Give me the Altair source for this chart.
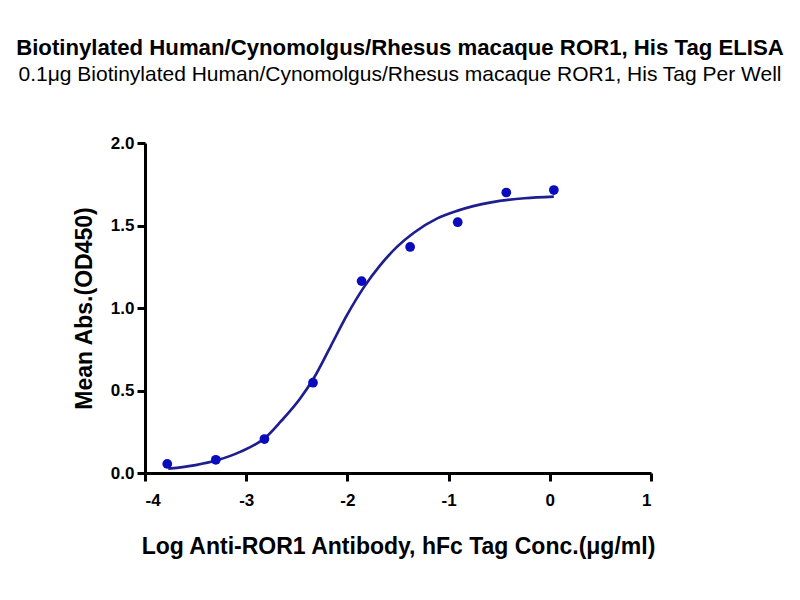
import altair as alt
import pandas as pd

# Measured points (log concentration, mean OD450)
pt_x = [-3.78, -3.30, -2.82, -2.34, -1.86, -1.38, -0.91, -0.43, 0.04]
pt_y = [0.055, 0.080, 0.206, 0.547, 1.163, 1.370, 1.520, 1.700, 1.715]

# Fitted curve
cv_x = [-3.77, -3.50, -3.29, -3.06, -2.81, -2.66, -2.465, -2.333, -2.168, -2.003,
        -1.838, -1.673, -1.508, -1.343, -1.112, -0.91, -0.58, -0.25, 0.04]
cv_y = [0.026, 0.048, 0.077, 0.128, 0.215, 0.311, 0.453, 0.574, 0.765, 0.958,
        1.125, 1.261, 1.372, 1.456, 1.543, 1.590, 1.640, 1.665, 1.675]

x_ticks = [-4, -3, -2, -1, 0, 1]
y_ticks = [0.0, 0.5, 1.0, 1.5, 2.0]

pts = pd.DataFrame({"x": pt_x, "y": pt_y})
curve = pd.DataFrame({"x": cv_x, "y": cv_y})

FONT = "Liberation Sans"

xscale = alt.Scale(domain=[-4, 1], nice=False, zero=False)
yscale = alt.Scale(domain=[0, 2], nice=False)

xaxis = alt.Axis(values=x_ticks, labelExpr="'' + datum.value",
                 title="Log Anti-ROR1 Antibody, hFc Tag Conc.(μg/ml)",
                 titleFont=FONT, titleFontSize=23, titleFontWeight="bold", titleColor="black",
                 titlePadding=27,
                 labelFont=FONT, labelFontSize=17, labelFontWeight="bold", labelColor="black",
                 labelPadding=11,
                 domainColor="black", domainWidth=3, tickColor="black", tickWidth=3, tickSize=8,
                 grid=False)
yaxis = alt.Axis(values=y_ticks, format=".1f", title="Mean Abs.(OD450)",
                 titleFont=FONT, titleFontSize=23, titleFontWeight="bold", titleColor="black",
                 titlePadding=14,
                 labelFont=FONT, labelFontSize=17, labelFontWeight="bold", labelColor="black",
                 labelPadding=3,
                 domainColor="black", domainWidth=3, tickColor="black", tickWidth=3, tickSize=8,
                 grid=False)

line = alt.Chart(curve).mark_line(color="#1E1E8E", strokeWidth=2.7, interpolate="monotone").encode(
    x=alt.X("x:Q", scale=xscale, axis=xaxis),
    y=alt.Y("y:Q", scale=yscale, axis=yaxis),
)
dots = alt.Chart(pts).mark_circle(color="#0A0ABE", opacity=1, size=95).encode(
    x=alt.X("x:Q", scale=xscale),
    y=alt.Y("y:Q", scale=yscale),
)

chart = alt.layer(line, dots).properties(
    width=506, height=330,
    autosize=alt.AutoSizeParams(type="none"),
    padding={"left": 137, "top": 135, "right": 141, "bottom": 119},
    title=alt.TitleParams(
        text="Biotinylated Human/Cynomolgus/Rhesus macaque ROR1, His Tag ELISA",
        subtitle="0.1μg Biotinylated Human/Cynomolgus/Rhesus macaque ROR1, His Tag Per Well",
        font=FONT, fontSize=22.2, fontWeight="bold", color="black",
        subtitleFont=FONT, subtitleFontSize=21, subtitleColor="black",
        subtitlePadding=5, anchor="middle", offset=49, dx=2,
    ),
).configure(background="white").configure_view(stroke=None, strokeWidth=0)

chart.save("out.html", embed_options={"renderer": "svg", "actions": False})
